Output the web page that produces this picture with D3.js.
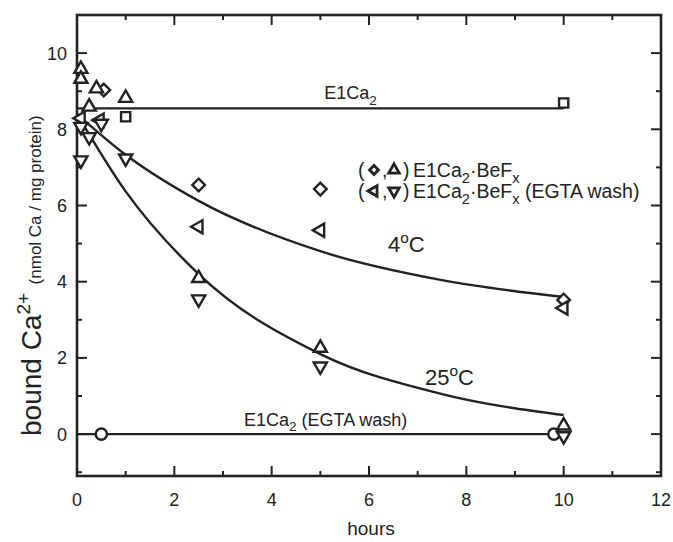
<!DOCTYPE html>
<html>
<head>
<meta charset="utf-8">
<script src="https://cdn.jsdelivr.net/npm/d3@7"></script>
<style>
  body { margin: 0; background: #fff; }
  svg { font-family: "Liberation Sans", Arial, sans-serif; }
</style>
</head>
<body>
<svg id="chart" width="673" height="542"></svg>
<script>
// data (hours, nmol Ca / mg protein)
const diamonds4C = [[0.55, 9.03], [2.5, 6.54], [5, 6.43], [10, 3.52]];
const upTri25C = [[0.08, 9.58], [0.08, 9.32], [0.25, 8.59], [0.4, 9.07], [1, 8.82], [2.5, 4.09], [5, 2.26], [10, 0.22]];
const leftTri4C = [[0.08, 8.29], [0.47, 8.24], [2.5, 5.44], [5, 5.35], [10, 3.31]];
const downTri25C = [[0.08, 7.19], [0.08, 8.07], [0.25, 7.8], [0.5, 8.15], [1, 7.24], [2.5, 3.54], [5, 1.78], [10, -0.05]];
const squares = [[1, 8.33], [10, 8.69]];
const circles = [[0.5, 0], [9.8, 0]];

const curve4C = [[0, 8.4], [1, 7.33], [2.5, 6.12], [5, 4.8], [7.5, 4.04], [10, 3.6]];
const curve25C = [[0, 8.4], [1, 6.37], [2.5, 4.2], [5, 2.1], [7.5, 1.05], [10, 0.5]];
const lineE1Ca2 = [[0, 8.55], [10, 8.55]];
const lineEGTA = [[0, 0], [10, 0]];

const xTicks = [0, 2, 4, 6, 8, 10, 12];
const yTicks = [0, 2, 4, 6, 8, 10];

const svg = d3.select("#chart");
const pl = 77, pr = 661, pt = 15, pb = 476;
const x = d3.scaleLinear().domain([0, 12]).range([pl, pr]);
const y = d3.scaleLinear().domain([-1.1, 11]).range([pb, pt]);
const ink = "#222";

// frame
svg.append("rect")
  .attr("x", pl).attr("y", pt)
  .attr("width", pr - pl).attr("height", pb - pt)
  .attr("fill", "none").attr("stroke", ink).attr("stroke-width", 2.6);

// ticks (inward, on all four sides)
const xMinor = d3.range(1, 12, 2), yMinor = d3.range(-1, 11, 2);
const tickG = svg.append("g").attr("stroke", ink).attr("stroke-width", 2);
xTicks.forEach(t => {
  tickG.append("line").attr("x1", x(t)).attr("x2", x(t)).attr("y1", pb).attr("y2", pb - 10);
  tickG.append("line").attr("x1", x(t)).attr("x2", x(t)).attr("y1", pt).attr("y2", pt + 10);
});
xMinor.forEach(t => {
  tickG.append("line").attr("x1", x(t)).attr("x2", x(t)).attr("y1", pb).attr("y2", pb - 5);
  tickG.append("line").attr("x1", x(t)).attr("x2", x(t)).attr("y1", pt).attr("y2", pt + 5);
});
yTicks.forEach(t => {
  tickG.append("line").attr("y1", y(t)).attr("y2", y(t)).attr("x1", pl).attr("x2", pl + 10);
  tickG.append("line").attr("y1", y(t)).attr("y2", y(t)).attr("x1", pr).attr("x2", pr - 10);
});
yMinor.forEach(t => {
  tickG.append("line").attr("y1", y(t)).attr("y2", y(t)).attr("x1", pl).attr("x2", pl + 5);
  tickG.append("line").attr("y1", y(t)).attr("y2", y(t)).attr("x1", pr).attr("x2", pr - 5);
});

// tick labels
svg.append("g").selectAll("text").data(xTicks).join("text")
  .attr("x", d => x(d)).attr("y", pb + 30)
  .attr("text-anchor", "middle").attr("font-size", 18).attr("fill", ink)
  .text(d => d);
svg.append("g").selectAll("text").data(yTicks).join("text")
  .attr("x", pl - 10).attr("y", d => y(d) + 6.5)
  .attr("text-anchor", "end").attr("font-size", 18).attr("fill", ink)
  .text(d => d);

// axis titles
svg.append("text")
  .attr("x", (pl + pr) / 2 + 2).attr("y", 535)
  .attr("text-anchor", "middle").attr("font-size", 19).attr("fill", ink)
  .text("hours");
const yt = svg.append("text")
  .attr("transform", `translate(41,436) rotate(-90)`)
  .attr("text-anchor", "start").attr("fill", ink);
yt.append("tspan").attr("font-size", 28).text("bound Ca");
yt.append("tspan").attr("font-size", 19).attr("dy", -11).text("2+");
yt.append("tspan").attr("font-size", 17).attr("dy", 11).text("\u2002(nmol Ca / mg protein)");

// lines
const line = d3.line().x(d => x(d[0])).y(d => y(d[1]));
const smooth = d3.line().x(d => x(d[0])).y(d => y(d[1])).curve(d3.curveMonotoneX);
[lineE1Ca2, lineEGTA].forEach(data => {
  svg.append("path").attr("d", line(data)).attr("fill", "none").attr("stroke", ink).attr("stroke-width", 2.4);
});
[curve4C, curve25C].forEach(data => {
  svg.append("path").attr("d", smooth(data)).attr("fill", "none").attr("stroke", ink).attr("stroke-width", 2.4);
});

// markers
function drawMarkers(data, type, size, rotate) {
  svg.append("g").selectAll("path").data(data).join("path")
    .attr("d", d3.symbol().type(type).size(size))
    .attr("transform", d => `translate(${x(d[0])},${y(d[1])}) rotate(${rotate})`)
    .attr("fill", "#fff").attr("stroke", ink).attr("stroke-width", 2.4);
}
drawMarkers(squares, d3.symbolSquare, 85, 0);
drawMarkers(circles, d3.symbolCircle, 100, 0);
drawMarkers(diamonds4C, d3.symbolSquare, 80, 45);
drawMarkers(leftTri4C, d3.symbolTriangle, 75, -90);
drawMarkers(downTri25C, d3.symbolTriangle, 75, 180);
drawMarkers(upTri25C, d3.symbolTriangle, 75, 0);

// annotations
function label(tx, ty, parts, size) {
  const t = svg.append("text").attr("x", tx).attr("y", ty).attr("font-size", size).attr("fill", ink);
  parts.forEach(p => {
    const s = t.append("tspan").text(p.t);
    if (p.sub) s.attr("font-size", size * 0.75).attr("dy", size * 0.3);
    if (p.sup) s.attr("font-size", size * 0.7).attr("dy", -size * 0.4);
    if (p.back) s.attr("dy", p.back * size);
  });
  return t;
}
label(x(5.08), y(8.55) - 9, [{ t: "E1Ca" }, { t: "2", sub: true }], 18);
label(x(3.43), y(0) - 8, [{ t: "E1Ca" }, { t: "2", sub: true }, { t: " (EGTA wash)", back: -0.3 }], 18);
label(388, y(4.8) + 1, [{ t: "4" }, { t: "o", sup: true }, { t: "C", back: 0.4 }], 22);
label(425, y(1.5) + 8, [{ t: "25" }, { t: "o", sup: true }, { t: "C", back: 0.4 }], 22);

// legend
const legendRows = [
  { marks: [[d3.symbolSquare, 45], [d3.symbolTriangle, 0]], extra: "" },
  { marks: [[d3.symbolTriangle, -90], [d3.symbolTriangle, 180]], extra: " (EGTA wash)" }
];
legendRows.forEach((r, i) => {
  const by = 177 + i * 21;
  const g = svg.append("g").attr("font-size", 19.5).attr("fill", ink);
  g.append("text").attr("x", 358).attr("y", by).text("(");
  g.append("text").attr("x", 382).attr("y", by).text(",");
  g.append("text").attr("x", 403).attr("y", by).text(")");
  r.marks.forEach((m, j) => {
    g.append("path")
      .attr("d", d3.symbol().type(m[0]).size(m[0] === d3.symbolSquare ? 40 : 48))
      .attr("transform", `translate(${374 + j * 20},${by - 7}) rotate(${m[1]})`)
      .attr("fill", "#fff").attr("stroke", ink).attr("stroke-width", 2.8);
  });
  label(413, by, [{ t: "E1Ca" }, { t: "2", sub: true }, { t: "\u00b7BeF", back: -0.3 }, { t: "x", sub: true }, { t: r.extra, back: -0.3 }], 19.5);
});
</script>
</body>
</html>
